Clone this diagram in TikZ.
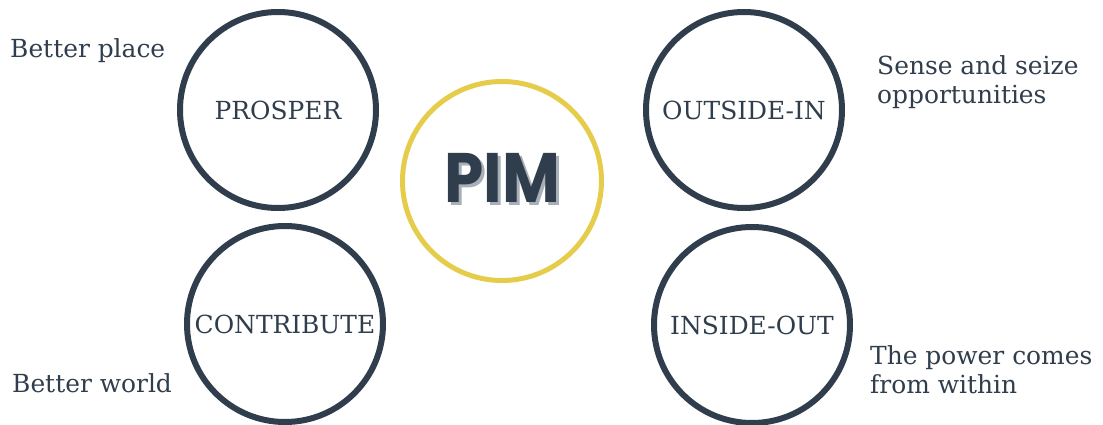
\documentclass[tikz,border=0pt]{standalone}
\usepackage{fontspec}
\setmainfont{DejaVu Serif}
\newfontfamily\pimfont{Poppins}[FakeStretch=0.9]
\usetikzlibrary{positioning}
\definecolor{slate}{HTML}{2F3D4C}
\definecolor{mustard}{HTML}{E6CC4B}
\definecolor{haze}{HTML}{A7AFB8}
\tikzset{%
ring/.style={draw=slate,line width=6pt,circle,minimum size=196pt,inner sep=0pt,text=slate,font=\fontsize{24.9}{29}\selectfont},
hub/.style={draw=mustard,line width=5pt,circle,minimum size=199pt,inner sep=0pt},
note/.style={text=slate,font=\fontsize{24.9}{29}\selectfont,inner sep=0pt,align=left},
pimtext/.style={font=\pimfont\bfseries\fontsize{70}{70}\selectfont,inner sep=0pt}
}

\begin{document}
\begin{tikzpicture}[x=1pt,y=-1pt]
  \useasboundingbox (0,0) rectangle (1103,425);

  % centre
  \node[hub] (pim) at (502,181) {};
  \node[pimtext,text=haze] (pimshadow) at ([xshift=3pt,yshift=0pt]pim.center) {PIM};
  \node[pimtext,text=slate] (pimlabel) at ([yshift=3pt]pim.center) {PIM};

  % the four rings
  \node[ring] (prosper) at (278,110) {PROSPER};
  \node[ring] (outside) at (744,110) {OUTSIDE-IN};
  \node[ring] (contribute) at (285,324) {CONTRIBUTE};
  \node[ring] (inside) at (752,325) {INSIDE-OUT};

  % side notes
  \node[note,anchor=base west] (place) at (10,58) {Better place};
  \node[note,anchor=base west] (world) at (12,392) {Better world};
  \node[note,anchor=north west] (sense) at (877,55) {Sense and seize\\opportunities};
  \node[note,anchor=north west] (power) at (870,345) {The power comes\\from within};
\end{tikzpicture}
\end{document}
